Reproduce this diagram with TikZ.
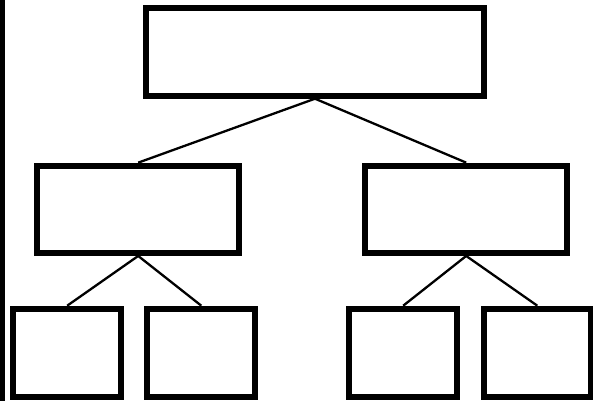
\documentclass[tikz,border=0pt]{standalone}
\begin{document}
\begin{tikzpicture}[x=1pt,y=-1pt,
  box/.style={draw=black,fill=white,line width=6pt,rectangle,inner sep=0pt,minimum width=#1},
  link/.style={draw=black,line width=2.3pt}]
\useasboundingbox (0,0) rectangle (593,401);
\fill[white] (0,0) rectangle (593,401);
\fill[black] (0,0) rectangle (4.5,401);
% top
\node[box=337.4pt,minimum height=88pt] (top) at (315,51.7) {};
% middle
\node[box=202.3pt,minimum height=87.3pt] (ml) at (138.2,209.3) {};
\node[box=201.5pt,minimum height=87.3pt] (mr) at (466.2,209.3) {};
% bottom
\node[box=108.5pt,minimum height=88.4pt] (b1) at (67.2,352.9) {};
\node[box=108.3pt,minimum height=88.4pt] (b2) at (201.3,352.9) {};
\node[box=108.5pt,minimum height=88.4pt] (b3) at (403.2,352.9) {};
\node[box=107.5pt,minimum height=88.4pt] (b4) at (537.3,352.9) {};
% connectors
\draw[link] (top.south) -- (ml.north);
\draw[link] (top.south) -- (mr.north);
\draw[link] (ml.south) -- (b1.north);
\draw[link] (ml.south) -- (b2.north);
\draw[link] (mr.south) -- (b3.north);
\draw[link] (mr.south) -- (b4.north);
\end{tikzpicture}
\end{document}
